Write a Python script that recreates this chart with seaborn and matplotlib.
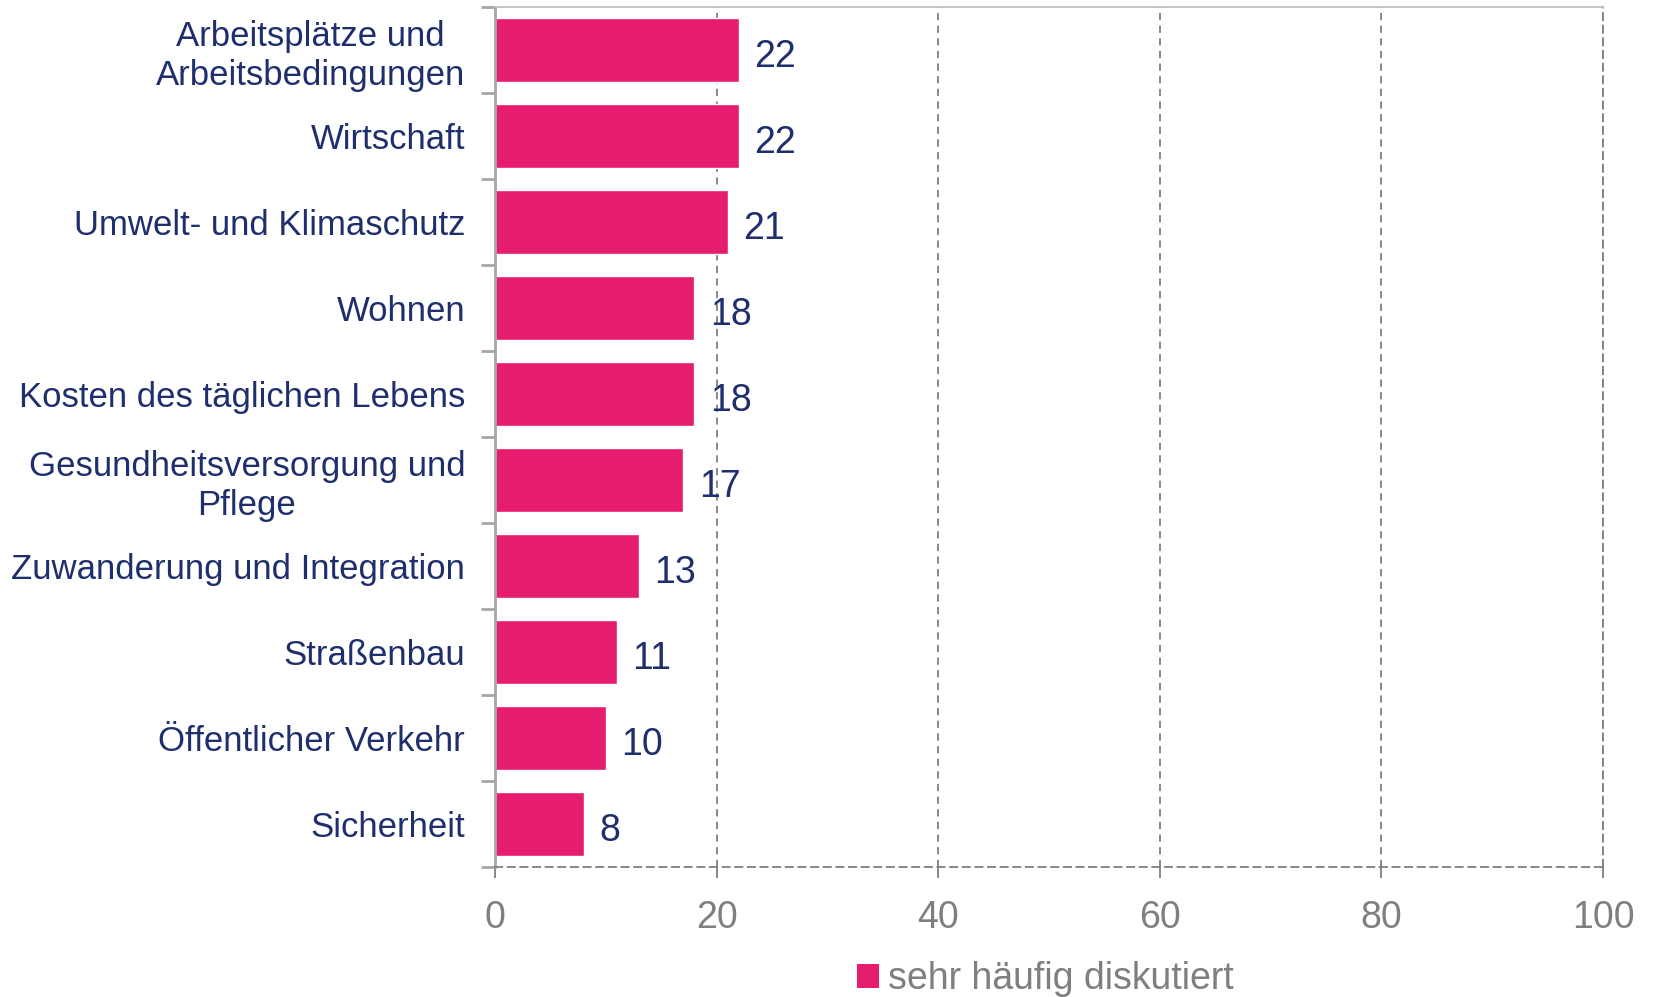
import matplotlib
matplotlib.use("Agg")
import matplotlib.pyplot as plt
import seaborn as sns
import pandas as pd
from matplotlib.patches import Patch

categories = [
    "Arbeitsplätze und\nArbeitsbedingungen",
    "Wirtschaft",
    "Umwelt- und Klimaschutz",
    "Wohnen",
    "Kosten des täglichen Lebens",
    "Gesundheitsversorgung und\nPflege",
    "Zuwanderung und Integration",
    "Straßenbau",
    "Öffentlicher Verkehr",
    "Sicherheit",
]
values = [22, 22, 21, 18, 18, 17, 13, 11, 10, 8]
x_ticks = [0, 20, 40, 60, 80, 100]
series_name = "sehr häufig diskutiert"

PINK = "#E61C6E"
NAVY = "#1F2F6E"
GREY = "#7F7F7F"

df = pd.DataFrame({"topic": categories, "value": values})

sns.set_style("white")
plt.rcParams["font.family"] = ["Liberation Sans", "DejaVu Sans"]

fig = plt.figure(figsize=(16.54, 9.97), dpi=100)
ax = fig.add_axes([0.2993, 0.1304, 0.6699, 0.8626])

sns.barplot(data=df, x="value", y="topic", orient="h", color=PINK,
            width=0.75, saturation=1, ax=ax)

ax.set_xlim(0, 100)
ax.set_xticks(x_ticks)
ax.set_xlabel("")
ax.set_ylabel("")

# dashed vertical gridlines
ax.grid(axis="x", linestyle=(0, (4, 3)), color=GREY, linewidth=1.3)
ax.set_axisbelow(True)

ax.spines["top"].set_color("#BFBFBF")
ax.spines["top"].set_linewidth(1.3)
ax.spines["left"].set_color("#A6A6A6")
ax.spines["left"].set_linewidth(2)
for side in ["bottom", "right"]:
    ax.spines[side].set_color(GREY)
    ax.spines[side].set_linestyle((0, (4, 3)))
    ax.spines[side].set_linewidth(1.3)

# category separators as ticks on the left
ax.set_yticks(range(len(categories)))
ax.set_yticks([i - 0.5 for i in range(len(categories) + 1)], minor=True)
ax.tick_params(axis="y", which="major", left=False, pad=18, labelsize=25, labelcolor=NAVY)
ax.tick_params(axis="y", which="minor", left=True, length=10, width=2, color="#A6A6A6")
ax.tick_params(axis="x", bottom=True, length=8, width=1.3, color=GREY, pad=16, labelsize=27,
               labelcolor=GREY, direction="out")
for lab in ax.get_yticklabels():
    lab.set_horizontalalignment("right")
    lab.set_multialignment("center")
    lab.set_linespacing(1.2)

for i, v in enumerate(values):
    ax.text(v + 1.4, i + 0.08, str(v), va="center", ha="left", fontsize=27, color=NAVY)

handles = [Patch(facecolor=PINK, edgecolor="none", label=series_name)]
fig.legend(handles=handles, loc="center", bbox_to_anchor=(0.632, 0.018), frameon=False,
           fontsize=27, labelcolor=GREY, handlelength=0.6, handleheight=0.6,
           handletextpad=0.25)

fig.savefig("out.png", dpi=100)
